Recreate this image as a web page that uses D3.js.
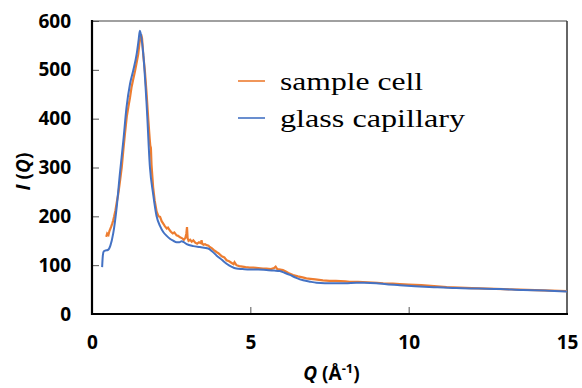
<!DOCTYPE html>
<html>
<head>
<meta charset="utf-8">
<script src="https://cdn.jsdelivr.net/npm/d3@7"></script>
<style>
  body { margin: 0; background: #fff; }
  svg { display: block; }
  .tick text { font-family: "Open Sans", "DejaVu Sans", sans-serif; font-weight: 700; font-size: 19px; fill: #000; }
  .legend text { font-family: "Liberation Serif", "DejaVu Serif", serif; font-size: 25px; fill: #000; }
</style>
</head>
<body>
<svg width="582" height="388"></svg>
<script>
// glass capillary (blue), Q in 1/A
var blueQ = [0.32,0.34,0.37,0.42,0.5,0.58,0.67,0.78,0.88,0.99,1.09,1.2,1.3,1.41,1.47,1.51,1.55,1.62,1.73,1.83,1.93,2.04,2.15,2.25,2.36,2.46,2.57,2.67,2.76,2.83,2.9,2.99,3.2,3.41,3.67,3.8,3.93,4.1,4.25,4.4,4.56,4.75,4.98,5.25,5.51,5.75,5.93,6.1,6.25,6.45,6.67,6.9,7.09,7.35,7.61,8.0,8.35,8.6,8.98,9.3,9.72,10.2,10.8,11.5,12.2,12.9,13.6,14.3,15.0];
var blueI = [96,118,128,130,131,140,165,219,287,355,423,471,498,532,560,580,570,532,423,300,246,200,180,168,160,154,150,147,147,149,147,143,139,137,134,128,120,111,103,97,93,92,91,91,90,89,88,84,80,74,69,66,64,63,63,63,64,64,63,61,59,57,55,53,52,51,49,48,46];
var orangeQ = [0.45,0.48,0.52,0.55,0.6,0.64,0.67,0.7,0.74,0.78,0.83,0.88,0.94,0.99,1.04,1.1,1.15,1.2,1.25,1.3,1.36,1.41,1.46,1.5,1.55,1.58,1.62,1.67,1.72,1.78,1.82,1.84,1.86,1.88,1.93,1.98,2.04,2.1,2.15,2.2,2.25,2.3,2.36,2.4,2.46,2.5,2.55,2.6,2.67,2.72,2.78,2.85,2.9,2.95,2.98,3.0,3.02,3.05,3.1,3.15,3.2,3.26,3.32,3.38,3.44,3.46,3.48,3.52,3.57,3.62,3.68,3.72,3.78,3.85,3.93,4.0,4.1,4.18,4.25,4.33,4.4,4.47,4.5,4.56,4.65,4.75,4.85,4.98,5.1,5.25,5.4,5.51,5.65,5.75,5.8,5.85,5.95,6.03,6.12,6.2,6.35,6.5,6.65,6.77,6.9,7.05,7.29,7.5,7.7,8.0,8.14,8.4,8.7,9.0,9.19,9.5,9.72,10.0,10.4,10.8,11.2,11.6,12.0,12.5,13.0,13.5,14.0,14.5,15.0];
var orangeI = [158,165,162,170,178,185,192,200,212,228,246,270,301,336,369,405,425,443,465,480,498,515,532,555,573,565,530,498,455,396,360,345,340,305,260,232,210,200,199,190,185,180,175,177,171,168,165,167,161,160,157,155,152,156,165,178,155,150,152,148,151,146,144,147,145,151,144,142,143,141,140,137,135,131,127,124,118,116,110,108,105,102,106,100,98,97,96,95,95,94,93,93,92,94,97,92,91,90,87,84,80,77,75,73,72,71,69,68,68,67,66,66,65,64,63,62,61,60,59,57,55,54,53,52,51,50,49,48,47,46];

var xTicks = [0, 5, 10, 15];
var yTicks = [0, 100, 200, 300, 400, 500, 600];
var legendNames = ["sample cell", "glass capillary"];
var legendWidths = [143, 185];
var colors = ["#ED7D31", "#4472C4"];

var svg = d3.select("svg"),
    margin = {top: 21, right: 15, bottom: 74, left: 92},
    width = +svg.attr("width") - margin.left - margin.right,
    height = +svg.attr("height") - margin.top - margin.bottom;

var x = d3.scaleLinear().domain([0, 15]).range([0, width]),
    y = d3.scaleLinear().domain([0, 600]).range([height, 0]);

var g = svg.append("g")
    .attr("transform", "translate(" + margin.left + "," + margin.top + ")");

// frame: top gray, right dark gray
g.append("line").attr("x1", 0).attr("x2", width).attr("y1", 0).attr("y2", 0)
    .attr("stroke", "#808080").attr("stroke-width", 1.5);
g.append("line").attr("x1", width).attr("x2", width).attr("y1", 0).attr("y2", height)
    .attr("stroke", "#333").attr("stroke-width", 1.5);

var line = d3.line()
    .x(function(d) { return x(d[0]); })
    .y(function(d) { return y(d[1]); });

var orangeData = orangeQ.map(function(q, i) { return [q, orangeI[i]]; });
var blueData = blueQ.map(function(q, i) { return [q, blueI[i]]; });

g.append("path")
    .datum(orangeData)
    .attr("fill", "none")
    .attr("stroke", colors[0])
    .attr("stroke-width", 2.2)
    .attr("d", line);

g.append("path")
    .datum(blueData)
    .attr("fill", "none")
    .attr("stroke", colors[1])
    .attr("stroke-width", 2)
    .attr("d", line.curve(d3.curveMonotoneX));

// y axis, ticks pointing inward
var yAxis = g.append("g")
    .call(d3.axisLeft(y).tickValues(yTicks).tickSize(0).tickPadding(21));
yAxis.select(".domain").remove();
yAxis.selectAll(".tick").append("line")
    .attr("x1", 0).attr("x2", 7)
    .attr("stroke", "#555").attr("stroke-width", 1);
g.append("line").attr("x1", 0).attr("x2", 0).attr("y1", -1).attr("y2", height + 1)
    .attr("stroke", "#000").attr("stroke-width", 2.2);

// x axis
var xAxis = g.append("g")
    .attr("transform", "translate(0," + height + ")")
    .call(d3.axisBottom(x).tickValues(xTicks).tickSize(0).tickPadding(22));
xAxis.select(".domain").remove();
xAxis.selectAll(".tick").filter(function(d) { return d > 0 && d < 15; }).append("line")
    .attr("y1", 0).attr("y2", -7)
    .attr("stroke", "#555").attr("stroke-width", 1);
g.append("line").attr("x1", -1).attr("x2", width + 1).attr("y1", height).attr("y2", height)
    .attr("stroke", "#000").attr("stroke-width", 2.2);

// axis titles
svg.append("text")
    .attr("transform", "translate(30," + (margin.top + height / 2 + 4) + ") rotate(-90)")
    .attr("text-anchor", "middle")
    .style("font-family", "'Open Sans', sans-serif")
    .style("font-weight", 700)
    .style("font-size", "19px")
    .html('<tspan font-style="italic">I</tspan> (<tspan font-style="italic">Q</tspan>)');

svg.append("text")
    .attr("x", margin.left + width / 2 + 2)
    .attr("y", 380)
    .attr("text-anchor", "middle")
    .style("font-family", "'Open Sans', sans-serif")
    .style("font-weight", 700)
    .style("font-size", "19px")
    .html('<tspan font-style="italic">Q</tspan> (Å<tspan dy="-7" font-size="13px">-1</tspan><tspan dy="7">)</tspan>');

// legend
var legend = svg.append("g").attr("class", "legend");
legendNames.forEach(function(name, i) {
  var ly = 81 + i * 37;
  legend.append("line")
    .attr("x1", 238).attr("x2", 265).attr("y1", ly).attr("y2", ly)
    .attr("stroke", colors[i]).attr("stroke-width", 2).attr("opacity", 0.8);
  legend.append("text")
    .attr("x", 280).attr("y", ly + 9)
    .attr("textLength", legendWidths[i])
    .attr("lengthAdjust", "spacingAndGlyphs")
    .text(name);
});
</script>
</body>
</html>
